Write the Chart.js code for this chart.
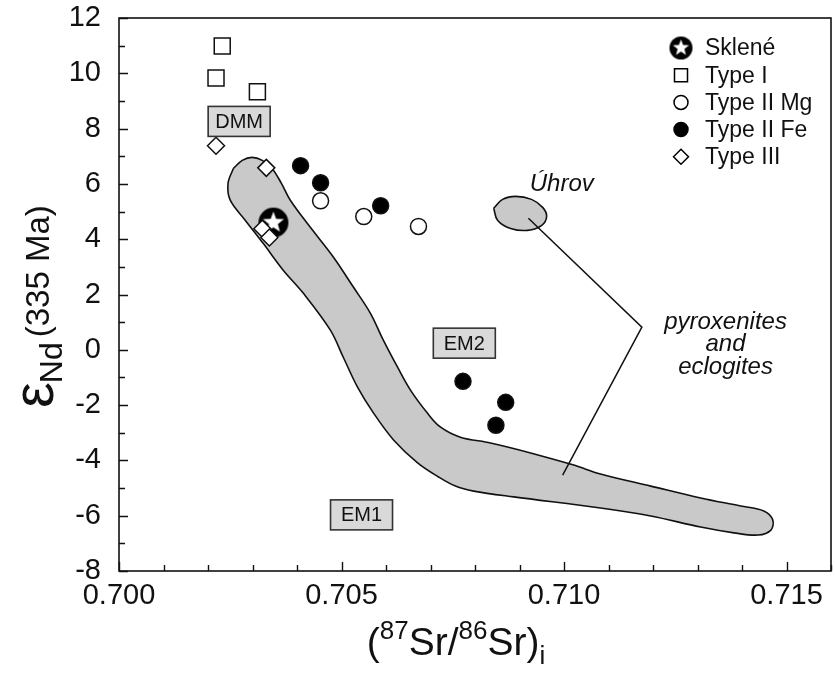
<!DOCTYPE html>
<html><head><meta charset="utf-8">
<script src="https://cdn.jsdelivr.net/npm/chart.js@4/dist/chart.umd.min.js"></script>
<style>html,body{margin:0;padding:0;background:#fff}#wrap{width:835px;height:676px;position:relative}</style>
</head><body><div id="wrap"><canvas id="c" width="835" height="676"></canvas></div>
<script>
// ---- data ----
const skleneX = [0.70347];
const skleneY = [4.60];
const type1X = [0.70232, 0.70218, 0.70311];
const type1Y = [10.99, 9.83, 9.33];
const type2MgX = [0.70453, 0.70550, 0.70673];
const type2MgY = [5.39, 4.82, 4.46];
const type2FeX = [0.70408, 0.70453, 0.70588, 0.70773, 0.70869, 0.70847];
const type2FeY = [6.66, 6.04, 5.21, -1.14, -1.90, -2.73];
const type3X = [0.70218, 0.70331, 0.70322, 0.70338];
const type3Y = [7.38, 6.58, 4.38, 4.06];
// field of pyroxenites and eclogites (outline)
const fieldX = [0.70257,0.70277,0.70299,0.70322,0.70344,0.70365,0.70385,0.70430,0.70482,0.70527,0.70565,0.70594,0.70626,0.70655,0.70693,0.70722,0.70767,0.70835,0.70925,0.71022,0.71082,0.71195,0.71307,0.71397,0.71449,0.71469,0.71465,0.71436,0.71382,0.71307,0.71195,0.71082,0.70887,0.70797,0.70756,0.70718,0.70671,0.70617,0.70572,0.70536,0.70504,0.70475,0.70414,0.70369,0.70324,0.70284,0.70250,0.70245,0.70257];
const fieldY = [6.56,6.85,6.96,6.85,6.56,6.02,5.41,4.43,3.35,2.26,1.32,0.35,-0.63,-1.46,-2.29,-2.79,-3.16,-3.37,-3.73,-4.17,-4.49,-4.93,-5.36,-5.65,-5.83,-6.15,-6.52,-6.70,-6.62,-6.41,-6.01,-5.72,-5.32,-5.11,-4.93,-4.60,-4.09,-3.26,-2.29,-1.35,-0.27,0.71,2.05,2.88,3.85,4.68,5.41,6.02,6.56];
// Úhrov field (outline)
const uhrovX = [0.70842,0.70862,0.70891,0.70927,0.70952,0.70961,0.70950,0.70918,0.70880,0.70851,0.70842];
const uhrovY = [5.12,5.44,5.55,5.44,5.15,4.83,4.50,4.32,4.39,4.68,5.12];
// leader line
const leaderX = [0.70920, 0.71175, 0.70997];
const leaderY = [4.76, 0.82, -4.53];
// boxed end-member labels
const boxLabels = ['DMM', 'EM2', 'EM1'];
const boxX = [0.70270, 0.70776, 0.70545];
const boxY = [8.26, 0.24, -5.97];
// axis tick labels
const xTickLabels = ['0.700', '0.705', '0.710', '0.715'];
const yTickLabels = ['-8', '-6', '-4', '-2', '0', '2', '4', '6', '8', '10', '12'];
const legendNames = ['Sklené', 'Type I', 'Type II Mg', 'Type II Fe', 'Type III'];

const FONT = "'Liberation Sans', Arial, Helvetica, sans-serif";
const TICK_SIZE = 29;

const zip = (xs, ys) => xs.map((x, i) => ({x, y: ys[i]}));

function starMarker(r) {
  const s = Math.ceil(r * 2 + 4);
  const cv = document.createElement('canvas');
  cv.width = s; cv.height = s;
  const c = cv.getContext('2d');
  const cx = s / 2, cy = s / 2;
  c.fillStyle = '#000';
  c.beginPath(); c.arc(cx, cy, r, 0, Math.PI * 2); c.fill();
  const ro = r * 0.74, ri = r * 0.31;
  c.fillStyle = '#fff';
  c.beginPath();
  for (let i = 0; i < 10; i++) {
    const a = -Math.PI / 2 + i * Math.PI / 5;
    const rr = i % 2 ? ri : ro;
    const px = cx + rr * Math.cos(a), py = cy + rr * Math.sin(a);
    i ? c.lineTo(px, py) : c.moveTo(px, py);
  }
  c.closePath(); c.fill();
  return cv;
}
const starBig = starMarker(15);
const starSmall = starMarker(11.5);

const framePlugin = {
  id: 'frame',
  afterDraw(chart) {
    const {ctx, chartArea: a, scales} = chart;
    const xs = scales.x, ys = scales.y;
    ctx.save();
    ctx.strokeStyle = '#111';
    ctx.lineWidth = 1.6;
    ctx.strokeRect(a.left, a.top, a.right - a.left, a.bottom - a.top);
    ctx.lineWidth = 1.4;
    ctx.beginPath();
    xs.ticks.forEach(t => {
      const px = Math.round(xs.getPixelForValue(t.value)) + 0.5;
      const major = Math.round(t.value * 1000) % 5 === 0;
      const len = major ? 9 : 6;
      ctx.moveTo(px, a.bottom); ctx.lineTo(px, a.bottom - len);
    });
    ys.ticks.forEach(t => {
      const py = Math.round(ys.getPixelForValue(t.value)) + 0.5;
      const major = Math.round(t.value) % 2 === 0;
      const len = major ? 9 : 6;
      ctx.moveTo(a.left, py); ctx.lineTo(a.left + len, py);
    });
    ctx.stroke();

    // boxed labels
    ctx.font = '20px ' + FONT;
    ctx.textAlign = 'center'; ctx.textBaseline = 'middle';
    boxLabels.forEach((lab, i) => {
      const px = xs.getPixelForValue(boxX[i]), py = ys.getPixelForValue(boxY[i]);
      const w = 62, h = 30;
      ctx.fillStyle = '#d9d9d9';
      ctx.fillRect(px - w / 2, py - h / 2, w, h);
      ctx.strokeStyle = '#333'; ctx.lineWidth = 1.6;
      ctx.strokeRect(px - w / 2, py - h / 2, w, h);
      ctx.fillStyle = '#111';
      ctx.fillText(lab, px, py + 1);
    });

    // italic annotations
    ctx.font = 'italic 24px ' + FONT;
    ctx.fillStyle = '#111';
    ctx.fillText('Úhrov', xs.getPixelForValue(0.70995), ys.getPixelForValue(6.0));
    const ax = xs.getPixelForValue(0.71363);
    ctx.fillText('pyroxenites', ax, ys.getPixelForValue(1.0));
    ctx.fillText('and', ax, ys.getPixelForValue(0.2));
    ctx.fillText('eclogites', ax, ys.getPixelForValue(-0.62));

    // legend
    const lx = a.right - 150, ly0 = a.top + 30, dy = 27.2;
    ctx.textAlign = 'left';
    ctx.font = '23px ' + FONT;
    legendNames.forEach((name, i) => {
      const y = ly0 + i * dy;
      if (i === 0) {
        ctx.drawImage(starSmall, lx - starSmall.width / 2, y - starSmall.height / 2);
      } else {
        const styles = [null, 'rect', 'circle', 'circle', 'rectRot'];
        const fills = [null, '#fff', '#fff', '#000', '#fff'];
        const rad = [0, 9.2, 7, 7, 7.5];
        ctx.fillStyle = fills[i]; ctx.strokeStyle = '#000'; ctx.lineWidth = 1.5;
        Chart.helpers.drawPoint(ctx, {pointStyle: styles[i], radius: rad[i], borderWidth: 1.5, rotation: 0}, lx, y);
      }
      ctx.fillStyle = '#111';
      ctx.fillText(name, lx + 24, y + 1);
    });

    // axis titles
    ctx.textAlign = 'left'; ctx.textBaseline = 'alphabetic';
    // x title
    const parts = [
      {t: '(', f: 39, dy: 0}, {t: '87', f: 26, dy: -16}, {t: 'Sr/', f: 39, dy: 0},
      {t: '86', f: 26, dy: -16}, {t: 'Sr)', f: 39, dy: 0}, {t: 'i', f: 26, dy: 9}
    ];
    let tw = 0;
    parts.forEach(p => { ctx.font = p.f + 'px ' + FONT; p.w = ctx.measureText(p.t).width; tw += p.w; });
    let cx = 456 - tw / 2;
    const by = 655;
    parts.forEach(p => { ctx.font = p.f + 'px ' + FONT; ctx.fillText(p.t, cx, by + p.dy); cx += p.w; });
    // y title (rotated)
    ctx.save();
    ctx.translate(53, 408);
    ctx.rotate(-Math.PI / 2);
    ctx.font = '58px ' + FONT;
    ctx.fillText('ε', 0, 0);
    let u = ctx.measureText('ε').width;
    ctx.font = '32px ' + FONT;
    ctx.fillText('Nd', u - 1, 9);
    u += ctx.measureText('Nd').width + 4;
    ctx.font = '33px ' + FONT;
    ctx.fillText('(335 Ma)', u, -4);
    ctx.restore();
    ctx.restore();
  }
};

const ptBase = {showLine: false, borderColor: '#111', borderWidth: 1.5, pointHoverRadius: 8};

new Chart(document.getElementById('c'), {
  type: 'scatter',
  data: {
    datasets: [
      {type: 'line', label: 'field', data: zip(fieldX, fieldY), borderColor: '#111', borderWidth: 1.6,
       backgroundColor: '#c9c9c9', fill: 'shape', tension: 0.35, pointRadius: 0, order: 10},
      {type: 'line', label: 'uhrov', data: zip(uhrovX, uhrovY), borderColor: '#111', borderWidth: 1.6,
       backgroundColor: '#c9c9c9', fill: 'shape', tension: 0.4, pointRadius: 0, order: 9},
      {type: 'line', label: 'leader', data: zip(leaderX, leaderY), borderColor: '#111', borderWidth: 1.5,
       fill: false, tension: 0, pointRadius: 0, order: 8},
      {label: 'Sklené', data: zip(skleneX, skleneY), pointStyle: starBig, pointRadius: 15, order: 6, ...ptBase},
      {label: 'Type I', data: zip(type1X, type1Y), pointStyle: 'rect', pointRadius: 11.3,
       backgroundColor: '#fff', order: 5, ...ptBase},
      {label: 'Type II Mg', data: zip(type2MgX, type2MgY), pointStyle: 'circle', pointRadius: 8,
       backgroundColor: '#fff', order: 4, ...ptBase},
      {label: 'Type II Fe', data: zip(type2FeX, type2FeY), pointStyle: 'circle', pointRadius: 8,
       backgroundColor: '#000', order: 3, ...ptBase},
      {label: 'Type III', data: zip(type3X, type3Y), pointStyle: 'rectRot', pointRadius: 8.5,
       backgroundColor: '#fff', order: 1, ...ptBase}
    ]
  },
  options: {
    responsive: false,
    animation: false,
    events: [],
    layout: {autoPadding: false, padding: {top: 18, right: 4, left: 0, bottom: 0}},
    plugins: {legend: {display: false}, tooltip: {enabled: false}},
    scales: {
      x: {
        type: 'linear', min: 0.700, max: 0.716,
        grid: {display: false, drawTicks: false},
        border: {display: false},
        afterFit: s => { s.height = 105; s.paddingLeft = 0; s.paddingRight = 0; },
        afterBuildTicks: s => { s.ticks = []; for (let k = 0; k <= 16; k++) s.ticks.push({value: +(0.700 + k * 0.001).toFixed(3)}); },
        ticks: {
          autoSkip: false, maxRotation: 0, padding: 8, color: '#111',
          font: {family: FONT, size: TICK_SIZE},
          callback: v => { const k = Math.round(v * 1000) - 700; return k % 5 === 0 ? xTickLabels[k / 5] : ''; }
        }
      },
      y: {
        type: 'linear', min: -8, max: 12,
        grid: {display: false, drawTicks: false},
        border: {display: false},
        afterFit: s => { s.width = 119; s.paddingTop = 0; s.paddingBottom = 0; },
        afterBuildTicks: s => { s.ticks = []; for (let v = -8; v <= 12; v++) s.ticks.push({value: v}); },
        ticks: {
          autoSkip: false, padding: 18, color: '#111',
          font: {family: FONT, size: TICK_SIZE},
          callback: v => { const r = Math.round(v); return r % 2 === 0 ? yTickLabels[(r + 8) / 2] : ''; }
        }
      }
    }
  },
  plugins: [framePlugin]
});
</script>
</body></html>
